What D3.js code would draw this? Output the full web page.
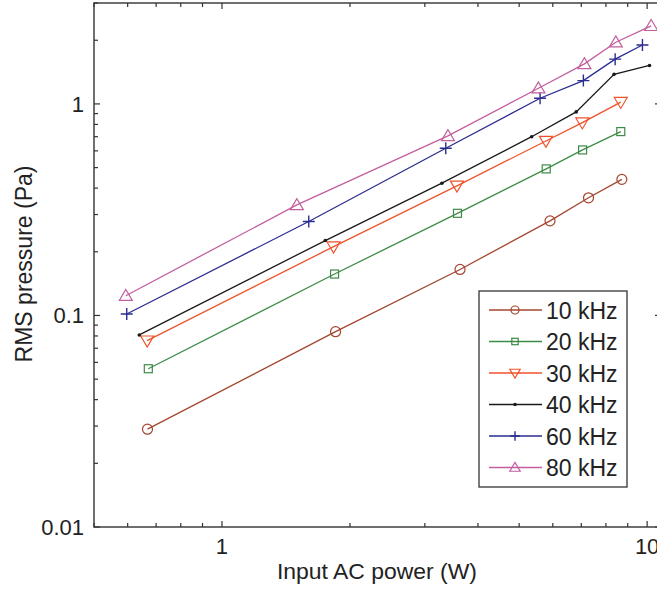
<!DOCTYPE html>
<html>
<head>
<meta charset="utf-8">
<script src="https://cdn.jsdelivr.net/npm/d3@7"></script>
<style>
  html, body { margin: 0; padding: 0; background: #fff; }
  svg { display: block; font-family: Arial, "Liberation Sans", sans-serif; }
</style>
</head>
<body>
<svg id="chart" width="657" height="589"></svg>
<script>
// ---- data ----
const seriesNames = ["10 kHz", "20 kHz", "30 kHz", "40 kHz", "60 kHz", "80 kHz"];
const power10 = [0.668, 1.85, 3.63, 5.91, 7.28, 8.72];
const pres10  = [0.029, 0.0838, 0.165, 0.280, 0.360, 0.440];
const power20 = [0.671, 1.84, 3.58, 5.79, 7.05, 8.67];
const pres20  = [0.056, 0.157, 0.304, 0.493, 0.606, 0.740];
const power30 = [0.667, 1.83, 3.57, 5.78, 7.04, 8.67];
const pres30  = [0.076, 0.2115, 0.41, 0.668, 0.816, 1.02];
const power40 = [0.639, 1.75, 3.29, 5.35, 6.81, 8.36, 10.13];
const pres40  = [0.0809, 0.226, 0.422, 0.700, 0.917, 1.38, 1.52];
const power60 = [0.597, 1.60, 3.36, 5.60, 7.08, 8.41, 9.75];
const pres60  = [0.1016, 0.278, 0.617, 1.064, 1.289, 1.628, 1.90];
const power80 = [0.594, 1.50, 3.40, 5.55, 7.12, 8.44, 10.22];
const pres80  = [0.124, 0.333, 0.706, 1.186, 1.546, 1.957, 2.34];
const xTickValues = [1, 10];
const xTickLabels = ["1", "10"];
const yTickValues = [0.01, 0.1, 1];
const yTickLabels = ["0.01", "0.1", "1"];
const xLabel = "Input AC power (W)";
const yLabel = "RMS pressure (Pa)";

// ---- styling ----
const colors = ["#a4452e", "#3d8b45", "#f0522a", "#1a1a1a", "#2b2d8f", "#c35f9e"];
const markers = ["circle", "square", "triDown", "dot", "plus", "triUp"];
const allPower = [power10, power20, power30, power40, power60, power80];
const allPres = [pres10, pres20, pres30, pres40, pres60, pres80];
const series = seriesNames.map((n, i) => ({
  name: n, color: colors[i], marker: markers[i],
  pts: allPower[i].map((x, j) => ({x: x, y: allPres[i][j]}))
}));

const L = 94, R = 661, T = 3, B = 527;
const svg = d3.select("#chart");
const x = d3.scaleLog().domain([0.5, 10.78]).range([L, R]);
const y = d3.scaleLog().domain([0.01, 3]).range([B, T]);

const axisColor = "#333";

// minor tick lists
const xMinor = [];
[0.1, 1, 10].forEach(d => { for (let k = 1; k <= 9; k++) { const v = d * k; if (v >= 0.5 && v <= 10.78) xMinor.push(v); } });
const yMinor = [];
[0.01, 0.1, 1].forEach(d => { for (let k = 1; k <= 9; k++) { const v = d * k; if (v >= 0.01 && v <= 3) yMinor.push(v); } });

const g = svg.append("g");
// frame
g.append("rect").attr("x", L).attr("y", T).attr("width", R - L).attr("height", B - T)
  .attr("fill", "none").attr("stroke", axisColor).attr("stroke-width", 1.4);

function isMajor(v) { return Math.abs(Math.log10(v) - Math.round(Math.log10(v))) < 1e-9; }
// x ticks bottom & top (inward)
xMinor.forEach(v => {
  const len = isMajor(v) ? 6 : 4;
  const px = x(v);
  g.append("line").attr("x1", px).attr("x2", px).attr("y1", B).attr("y2", B - len)
    .attr("stroke", axisColor).attr("stroke-width", 1.2);
  g.append("line").attr("x1", px).attr("x2", px).attr("y1", T).attr("y2", T + len)
    .attr("stroke", axisColor).attr("stroke-width", 1.2);
});
// y ticks left & right
yMinor.forEach(v => {
  const len = isMajor(v) ? 6 : 4;
  const py = y(v);
  g.append("line").attr("y1", py).attr("y2", py).attr("x1", L).attr("x2", L + len)
    .attr("stroke", axisColor).attr("stroke-width", 1.2);
  g.append("line").attr("y1", py).attr("y2", py).attr("x1", R).attr("x2", R - len)
    .attr("stroke", axisColor).attr("stroke-width", 1.2);
});

// tick labels
xTickValues.forEach((v, i) => {
  g.append("text").attr("x", x(v)).attr("y", 554).attr("text-anchor", "middle")
    .attr("font-size", 22).attr("fill", "#222").text(xTickLabels[i]);
});
yTickValues.forEach((v, i) => {
  g.append("text").attr("x", 84).attr("y", y(v) + 8).attr("text-anchor", "end")
    .attr("font-size", 22).attr("fill", "#222").text(yTickLabels[i]);
});

// axis titles
g.append("text").attr("x", 377).attr("y", 579).attr("text-anchor", "middle")
  .attr("font-size", 22).attr("fill", "#222")
  .attr("textLength", 200).attr("lengthAdjust", "spacingAndGlyphs").text(xLabel);
g.append("text").attr("transform", "translate(32,264) rotate(-90)").attr("text-anchor", "middle")
  .attr("font-size", 23).attr("fill", "#222").text(yLabel);

// marker drawing
function drawMarker(sel, type, cx, cy, color, s) {
  const sw = 1.2;
  if (type === "circle") {
    sel.append("circle").attr("cx", cx).attr("cy", cy).attr("r", 5 * s)
      .attr("fill", "none").attr("stroke", color).attr("stroke-width", sw);
  } else if (type === "square") {
    const h = 4 * s;
    sel.append("rect").attr("x", cx - h).attr("y", cy - h).attr("width", 2 * h).attr("height", 2 * h)
      .attr("fill", "none").attr("stroke", color).attr("stroke-width", sw);
  } else if (type === "triDown" || type === "triUp") {
    const w = 6.5 * s, h = 5.5 * s;
    const d = type === "triUp"
      ? `M${cx - w},${cy + h * 0.85}L${cx + w},${cy + h * 0.85}L${cx},${cy - h * 1.15}Z`
      : `M${cx - w},${cy - h * 0.85}L${cx + w},${cy - h * 0.85}L${cx},${cy + h * 1.15}Z`;
    sel.append("path").attr("d", d).attr("fill", "none").attr("stroke", color).attr("stroke-width", sw);
  } else if (type === "dot") {
    sel.append("circle").attr("cx", cx).attr("cy", cy).attr("r", 1.8)
      .attr("fill", color).attr("stroke", "none");
  } else if (type === "plus") {
    const a = 6 * s;
    sel.append("path").attr("d", `M${cx - a},${cy}L${cx + a},${cy}M${cx},${cy - a}L${cx},${cy + a}`)
      .attr("fill", "none").attr("stroke", color).attr("stroke-width", 1.4);
  }
}

// series
const line = d3.line().x(d => x(d.x)).y(d => y(d.y));
series.forEach(s => {
  const sg = g.append("g");
  sg.append("path").datum(s.pts).attr("d", line).attr("fill", "none")
    .attr("stroke", s.color).attr("stroke-width", 1.3);
  s.pts.forEach(p => drawMarker(sg, s.marker, x(p.x), y(p.y), s.color, 1));
});

// legend
const lg = g.append("g");
lg.append("rect").attr("x", 479).attr("y", 291).attr("width", 148).attr("height", 196)
  .attr("fill", "#fff").attr("stroke", axisColor).attr("stroke-width", 1.3);
series.forEach((s, i) => {
  const ry = 310 + i * 31.5;
  lg.append("line").attr("x1", 489).attr("x2", 542).attr("y1", ry).attr("y2", ry)
    .attr("stroke", s.color).attr("stroke-width", 1.3);
  drawMarker(lg, s.marker, 515, ry, s.color, 0.8);
  lg.append("text").attr("x", 546).attr("y", ry + 8.5).attr("font-size", 23)
    .attr("fill", "#222").text(s.name);
});
</script>
</body>
</html>
